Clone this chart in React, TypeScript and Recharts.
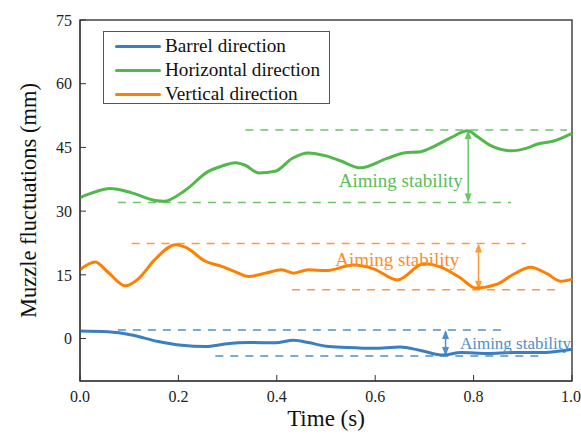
import React from 'react';
import {
  LineChart, Line, XAxis, YAxis, Legend, ReferenceLine, ReferenceArea, ReferenceDot,
} from 'recharts';

// Barrel direction
const barrelT = [0, 0.057, 0.105, 0.159, 0.207, 0.255, 0.295, 0.342, 0.397, 0.434, 0.464, 0.5, 0.543, 0.597, 0.651, 0.692, 0.739, 0.774, 0.828, 0.882, 0.937, 1.0];
const barrelV = [1.8, 1.6, 0.85, -0.7, -1.6, -1.9, -1.3, -0.95, -1.0, -0.4, -0.95, -1.8, -2.1, -2.3, -2.0, -2.8, -3.9, -3.3, -3.5, -3.3, -3.3, -2.5];

// Horizontal direction
const horizT = [0, 0.03, 0.061, 0.105, 0.153, 0.17, 0.214, 0.26, 0.288, 0.316, 0.336, 0.363, 0.397, 0.431, 0.464, 0.5, 0.53, 0.57, 0.624, 0.658, 0.692, 0.719, 0.754, 0.788, 0.808, 0.835, 0.876, 0.91, 0.93, 0.963, 1.0];
const horizV = [33.2, 34.5, 35.3, 34.3, 32.5, 32.3, 34.9, 39.3, 40.6, 41.4, 40.8, 39.0, 39.4, 42.4, 43.7, 43.0, 41.8, 40.2, 42.4, 43.7, 44.0, 45.2, 47.3, 48.9, 47.5, 45.4, 44.2, 44.9, 45.8, 46.5, 48.3];

// Vertical direction
const vertT = [0, 0.031, 0.057, 0.092, 0.118, 0.153, 0.194, 0.214, 0.255, 0.288, 0.316, 0.342, 0.377, 0.41, 0.434, 0.464, 0.5, 0.556, 0.597, 0.645, 0.699, 0.733, 0.774, 0.804, 0.848, 0.882, 0.916, 0.95, 0.977, 1.0];
const vertV = [16.2, 18.0, 15.6, 12.4, 14.0, 18.7, 22.1, 21.5, 18.2, 17.0, 15.7, 14.6, 15.4, 16.2, 15.4, 16.2, 16.0, 17.3, 16.4, 13.8, 17.6, 16.8, 14.2, 11.9, 12.8, 15.2, 16.8, 15.2, 13.5, 14.0];

const xTicks = [0, 0.2, 0.4, 0.6, 0.8, 1.0];
const yTicks = [0, 15, 30, 45, 60, 75];

// aiming stability bands: [upper, lower, upper start, upper end, lower start, lower end, arrow t]
const greenBand = [49.1, 32.0, 0.336, 0.99, 0.077, 0.876, 0.789];
const orangeBand = [22.4, 11.5, 0.105, 0.906, 0.431, 0.967, 0.81];
const blueBand = [2.0, -4.1, 0.077, 0.869, 0.275, 0.937, 0.743];

const BLUE = '#3b7ec2';
const GREEN = '#52b84c';
const ORANGE = '#ff8000';
const FONT = "'Liberation Serif', 'Times New Roman', Times, serif";

const zip = (t: number[], v: number[]) => t.map((x, i) => ({ t: x, v: v[i] }));
const barrelData = zip(barrelT, barrelV);
const horizData = zip(horizT, horizV);
const vertData = zip(vertT, vertV);

const series = [
  { name: 'Barrel direction', color: BLUE },
  { name: 'Horizontal direction', color: GREEN },
  { name: 'Vertical direction', color: ORANGE },
];

const arrowShape = (color: string) => (p: any) => {
  const { x1, y1, x2, y2 } = p;
  const top = Math.min(y1, y2);
  const bot = Math.max(y1, y2);
  return (
    <g>
      <line x1={x1} x2={x2} y1={top + 2} y2={bot - 2} stroke={color} strokeWidth={1.5} />
      <polygon points={`${x1},${top} ${x1 - 3.5},${top + 9} ${x1 + 3.5},${top + 9}`} fill={color} />
      <polygon points={`${x1},${bot} ${x1 - 3.5},${bot - 9} ${x1 + 3.5},${bot - 9}`} fill={color} />
    </g>
  );
};

const band = (b: number[], color: string, key: string) => [
  <ReferenceLine key={key + 'u'} segment={[{ x: b[2], y: b[0] }, { x: b[3], y: b[0] }]} stroke={color} strokeWidth={1.5} strokeDasharray="8 7" />,
  <ReferenceLine key={key + 'l'} segment={[{ x: b[4], y: b[1] }, { x: b[5], y: b[1] }]} stroke={color} strokeWidth={1.5} strokeDasharray="8 7" />,
  <ReferenceLine key={key + 'a'} segment={[{ x: b[6], y: b[0] }, { x: b[6], y: b[1] }]} stroke={color} shape={arrowShape(color)} />,
];

const LegendBox = () => (
  <div style={{ border: '1px solid #555', background: '#fff', width: 227, height: 73, boxSizing: 'border-box', padding: '2px 0 0 11px', fontFamily: FONT, fontSize: 19.2, color: '#111', lineHeight: 1 }}>
    {series.map((s) => (
      <div key={s.name} style={{ display: 'flex', alignItems: 'center', height: 24 }}>
        <div style={{ width: 46, height: 3, borderRadius: 1.5, background: s.color, marginRight: 4 }} />
        <span>{s.name}</span>
      </div>
    ))}
  </div>
);

export default function App() {
  const tickStyle = { fontFamily: FONT, fontSize: 16, fill: '#222' };
  return (
    <div style={{ position: 'absolute', left: 0, top: 0, background: '#fff', fontFamily: FONT }}>
      <LineChart width={581} height={438} margin={{ top: 20, right: 9, bottom: 27, left: 20 }} style={{ fontFamily: FONT }}>
        <XAxis
          type="number"
          dataKey="t"
          domain={[0, 1]}
          ticks={xTicks}
          tickFormatter={(v: number) => v.toFixed(1)}
          height={30}
          tickSize={-6}
          tickMargin={16}
          tick={tickStyle}
          stroke="#333"
          label={{ value: 'Time (s)', position: 'bottom', offset: -1, style: { fontFamily: FONT, fontSize: 23, fill: '#111' } }}
        />
        <YAxis
          type="number"
          domain={[-10, 75]}
          ticks={yTicks}
          width={60}
          tickSize={-6}
          tickMargin={14}
          tick={tickStyle}
          stroke="#333"
          label={{ value: 'Muzzle fluctuations (mm)', angle: -90, position: 'insideLeft', offset: 8, style: { textAnchor: 'middle', fontFamily: FONT, fontSize: 22.5, fill: '#111' } }}
        />
        <ReferenceArea x1={0} x2={1} y1={-10} y2={75} fill="none" stroke="#444" strokeWidth={1.5} />
        <Legend
          layout="vertical"
          align="center"
          verticalAlign="middle"
          content={() => <LegendBox />}
          wrapperStyle={{ left: 103, top: 31, width: 227 }}
        />
        {band(greenBand, '#6cc46a', 'g')}
        {band(orangeBand, '#ff9a3a', 'o')}
        {band(blueBand, '#4f8fcc', 'b')}
        <Line data={barrelData} dataKey="v" name="Barrel direction" type="monotone" stroke={BLUE} strokeWidth={3} dot={false} isAnimationActive={false} />
        <Line data={horizData} dataKey="v" name="Horizontal direction" type="monotone" stroke={GREEN} strokeWidth={3} dot={false} isAnimationActive={false} />
        <Line data={vertData} dataKey="v" name="Vertical direction" type="monotone" stroke={ORANGE} strokeWidth={3} dot={false} isAnimationActive={false} />
        <ReferenceDot x={0.652} y={37.2} r={0} fill="none" stroke="none" label={{ value: 'Aiming stability', position: 'center', fill: '#5cbc59', fontSize: 19, fontFamily: FONT }} />
        <ReferenceDot x={0.645} y={18.7} r={0} fill="none" stroke="none" label={{ value: 'Aiming stability', position: 'center', fill: '#ff8c1f', fontSize: 19, fontFamily: FONT }} />
        <ReferenceDot x={0.885} y={-0.95} r={0} fill="none" stroke="none" label={{ value: 'Aiming stability', position: 'center', fill: '#4f8fcc', fontSize: 17, fontFamily: FONT }} />
      </LineChart>
    </div>
  );
}
